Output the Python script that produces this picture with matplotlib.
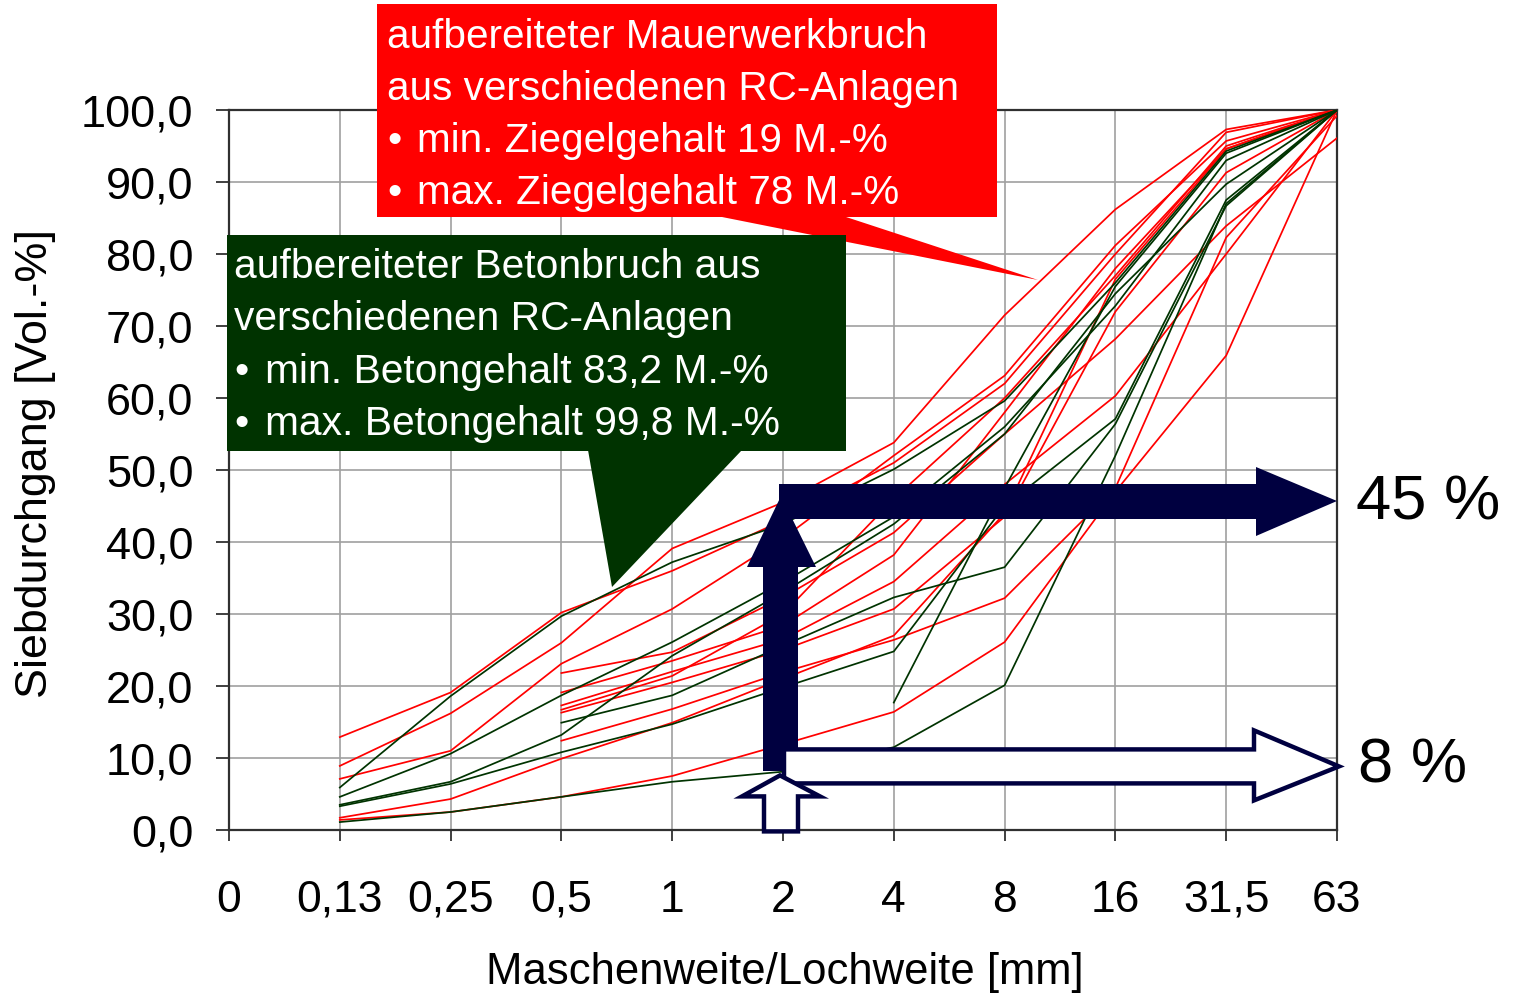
import numpy as np
import matplotlib
matplotlib.use("Agg")
import matplotlib.pyplot as plt
from matplotlib.patches import Polygon, Rectangle
import matplotlib.transforms as mtransforms

plt.rcParams['font.family'] = ['Liberation Sans', 'DejaVu Sans']

nan = np.nan

# sieve sizes (categorical axis)
sieves = ["0", "0,13", "0,25", "0,5", "1", "2", "4", "8", "16", "31,5", "63"]
y_ticks = [0, 10, 20, 30, 40, 50, 60, 70, 80, 90, 100]

# aufbereiteter Mauerwerkbruch (red)
mauerwerk = [
    [nan, 12.9, 19.1, 30.2, 36.0, 43.0, 51.0, 62.0, 80.0, 96.9, 100],
    [nan, 8.9, 16.2, 26.0, 39.1, 45.5, 53.8, 71.5, 86.2, 97.3, 100],
    [nan, 7.1, 11.0, 23.1, 30.7, 40.5, 52.0, 63.1, 81.2, 95.7, 100],
    [nan, 1.7, 4.3, 9.9, 14.9, 21.0, 27.0, 44.0, 76.5, 94.6, 100],
    [nan, 1.4, 2.5, 4.6, 7.5, 11.9, 16.4, 26.1, 47.0, 65.9, 100],
    [nan, nan, nan, 21.8, 24.7, 32.3, 41.3, 55.0, 68.2, 83.9, 96.1],
    [nan, nan, nan, 19.1, 23.5, 28.4, 38.2, 58.0, 78.0, 94.6, 100],
    [nan, nan, nan, 17.3, 22.0, 26.5, 34.5, 48.0, 60.3, 80.0, 100],
    [nan, nan, nan, 16.3, 20.5, 25.0, 30.7, 43.5, 72.0, 91.3, 100],
    [nan, nan, nan, 12.4, 16.8, 21.9, 26.4, 32.2, 47.5, 82.3, 99.2],
    [nan, nan, nan, 16.7, 21.4, 30.0, 46.0, 60.0, 77.0, 95.0, 100],
]

# aufbereiteter Betonbruch (green)
beton = [
    [nan, 5.9, 18.6, 29.7, 37.2, 42.5, 50.1, 59.6, 76.0, 94.3, 100],
    [nan, 4.6, 10.6, 18.7, 26.1, 34.4, 43.5, 56.0, 72.8, 93.0, 100],
    [nan, 3.5, 6.7, 13.2, 24.2, 33.0, 42.5, 55.0, 74.5, 89.7, 100],
    [nan, 3.3, 6.4, 10.8, 14.7, 19.8, 24.8, 45.0, 57.1, 87.5, 100],
    [nan, nan, nan, 14.9, 18.7, 25.6, 32.3, 36.5, 56.4, 86.7, 100],
    [nan, 1.1, 2.5, 4.6, 6.7, 8.1, 11.5, 20.1, 52.0, 87.0, 100],
    [nan, nan, nan, nan, nan, nan, 17.7, 47.5, 75.5, 94.0, 100],
]

# callout texts: (bullet?, text)
red_text = [(False, "aufbereiteter Mauerwerkbruch"), (False, "aus verschiedenen RC-Anlagen"),
            (True, "min. Ziegelgehalt 19 M.-%"), (True, "max. Ziegelgehalt 78 M.-%")]
green_text = [(False, "aufbereiteter Betonbruch aus"), (False, "verschiedenen RC-Anlagen"),
              (True, "min. Betongehalt 83,2 M.-%"), (True, "max. Betongehalt 99,8 M.-%")]

RED = "#ff0000"
GREEN = "#003300"
NAVY = "#000040"
W, H = 1520, 995

fig = plt.figure(figsize=(W / 100, H / 100), dpi=100)
ax = fig.add_axes([229 / W, 1 - 831 / H, (1337 - 229) / W, (831 - 111) / H])

x = np.arange(len(sieves))
for row in mauerwerk:
    ax.plot(x, row, color=RED, lw=1.25, zorder=3)
for row in beton:
    ax.plot(x, row, color=GREEN, lw=1.25, zorder=4)

ax.set_xlim(0, len(sieves) - 1)
ax.set_ylim(0, 100)
ax.set_xticks(x)
ax.set_xticklabels(sieves)
ax.set_yticks(y_ticks)
ax.set_yticklabels([f"{v:.1f}".replace(".", ",") for v in y_ticks])
ax.tick_params(axis="x", labelsize=32, length=8, width=1.3, pad=27, color="#303030")
ax.tick_params(axis="y", labelsize=32.5, length=9.5, width=1.3, pad=16, color="#303030")
ax.grid(True, color="#a0a0a0", lw=1.2, zorder=0)
ax.set_axisbelow(True)
for s in ax.spines.values():
    s.set_color("#303030")
    s.set_linewidth(1.6)


def pix(px, py):
    return (px / 100, (H - py) / 100)


def callout_lines(lines, x0, x_bullet_text, y0, step, size):
    for i, (bullet, t) in enumerate(lines):
        yy = y0 + step * i
        if bullet:
            fig.text(*pix(x0, yy), "\u2022", fontsize=size, color="white", ha="left", va="center",
                     transform=fig.dpi_scale_trans)
            fig.text(*pix(x_bullet_text, yy), t, fontsize=size, color="white", ha="left", va="center",
                     transform=fig.dpi_scale_trans)
        else:
            fig.text(*pix(x0, yy), t, fontsize=size, color="white", ha="left", va="center",
                     transform=fig.dpi_scale_trans)


# axis labels
fig.text(*pix(785, 973), "Maschenweite/Lochweite [mm]", fontsize=31.4,
         ha="center", va="center", transform=fig.dpi_scale_trans)
fig.text(*pix(36, 464), "Siebdurchgang [Vol.-%]", fontsize=32.3, rotation=90,
         ha="center", va="center", transform=fig.dpi_scale_trans)

# red callout
fig.patches.append(Polygon([pix(717, 217), pix(843, 217), pix(1038, 281)], closed=True,
                           facecolor=RED, edgecolor="none", transform=fig.dpi_scale_trans, figure=fig))
fig.patches.append(Rectangle(pix(377, 218), 620 / 100, 213 / 100, facecolor=RED, edgecolor="none",
                             transform=fig.dpi_scale_trans, figure=fig))
callout_lines(red_text, 387, 417, 37, 52, 29.2)

# green callout
fig.patches.append(Polygon([pix(588, 451), pix(742, 451), pix(612, 588)], closed=True,
                           facecolor=GREEN, edgecolor="none", transform=fig.dpi_scale_trans, figure=fig))
fig.patches.append(Rectangle(pix(227, 452), 619 / 100, 216 / 100, facecolor=GREEN, edgecolor="none",
                             transform=fig.dpi_scale_trans, figure=fig))
callout_lines(green_text, 234, 265, 267, 52.5, 29.3)


# arrows: vertices in pixel offsets from a data anchor
def arrow(xd, yd, verts, **kw):
    tr = mtransforms.Affine2D().scale(1 / 100) + fig.dpi_scale_trans + \
        mtransforms.ScaledTranslation(xd, yd, ax.transData)
    ax.add_patch(Polygon(verts, closed=True, transform=tr, clip_on=False, **kw))


i2 = sieves.index("2")
big_v = [(-20, -265), (15, -265), (15, -61), (33, -61), (-2, 10), (-36, -61), (-20, -61)]
big_h = [(-4, 22), (473, 22), (473, 39), (554, 5), (473, -30), (473, -13), (-4, -13)]
arrow(i2, 45, big_v, facecolor=NAVY, edgecolor="none", zorder=6)
arrow(i2, 45, big_h, facecolor=NAVY, edgecolor="none", zorder=6)

white_h = [(1, 23), (471, 23), (471, 42), (556, 6), (471, -28), (471, -11), (1, -11)]
white_v = [(-19, -59), (15, -59), (15, -24), (37, -24), (-3, -3), (-41, -24), (-19, -24)]
arrow(i2, 8, white_h, facecolor="white", edgecolor=NAVY, lw=3.2, joinstyle="miter", zorder=7)
arrow(i2, 8, white_v, facecolor="white", edgecolor=NAVY, lw=3.2, joinstyle="miter", zorder=8)

ax.annotate("45 %", xy=(len(sieves) - 1, 45.5), xytext=(14, 0), textcoords="offset points",
            fontsize=45.5, ha="left", va="center", annotation_clip=False)
ax.annotate("8 %", xy=(len(sieves) - 1, 9), xytext=(15, 0), textcoords="offset points",
            fontsize=45.5, ha="left", va="center", annotation_clip=False)

fig.savefig("out.png", dpi=100)
